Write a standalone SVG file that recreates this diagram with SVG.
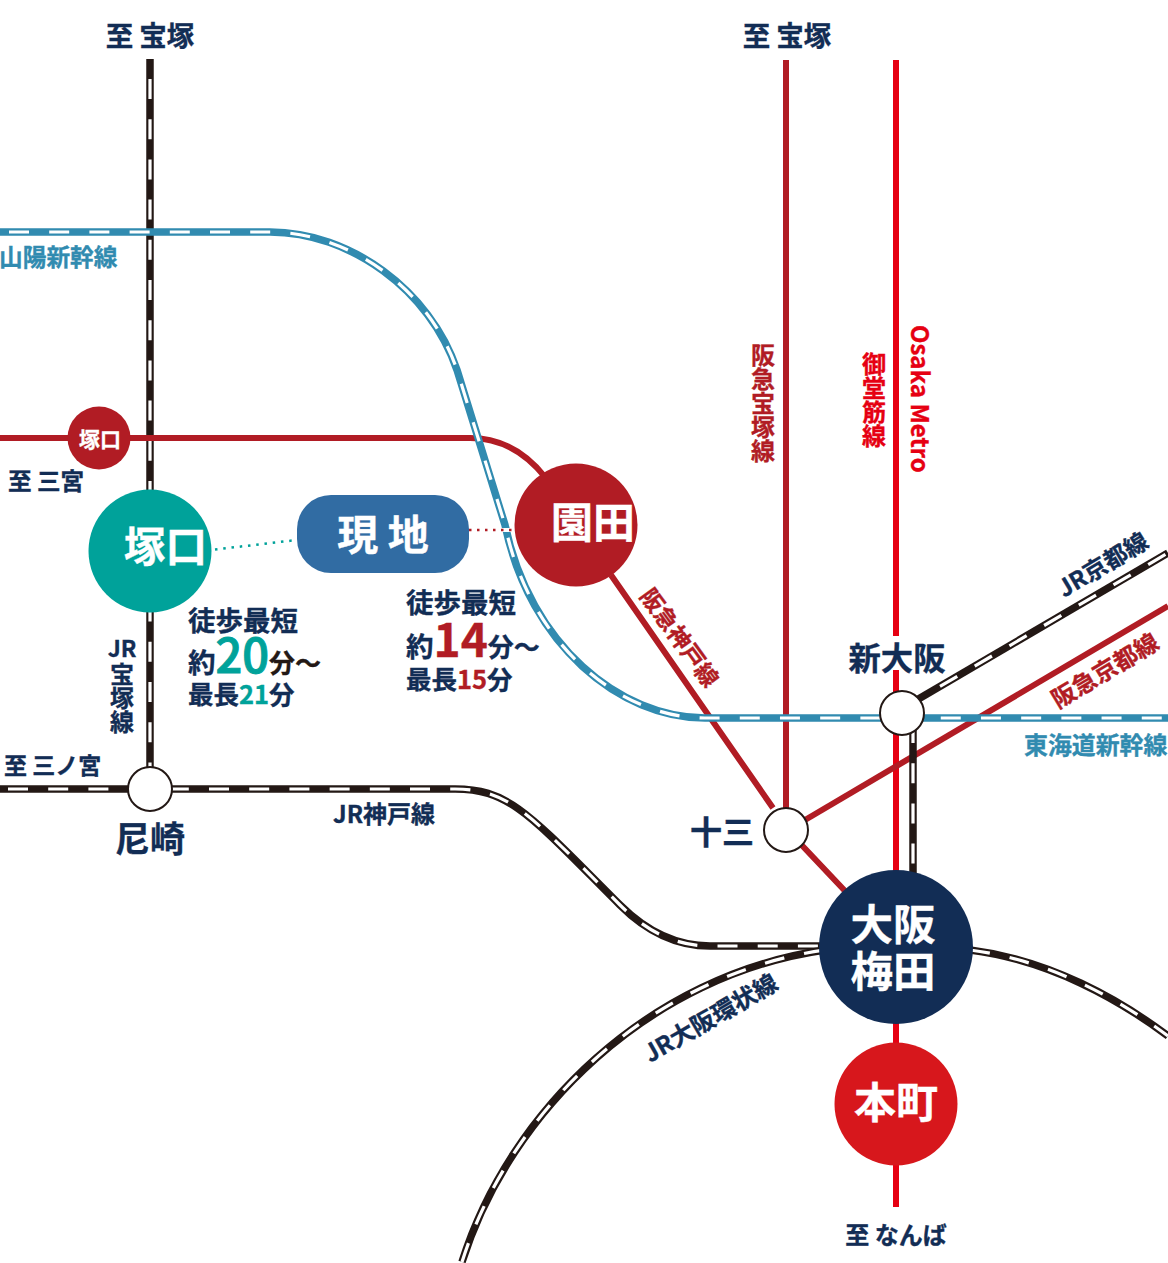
<svg xmlns="http://www.w3.org/2000/svg" width="1168" height="1263" viewBox="0 0 1168 1263">
<style>
text{font-family:"Noto Sans CJK JP","Noto Sans",sans-serif;font-weight:700;fill:#122d55;stroke:#122d55;stroke-width:.35}
.m{text-anchor:middle}
.v{writing-mode:vertical-rl}
.w{fill:#fff;stroke:#fff}
.rail{fill:none;stroke:#231815;stroke-width:7.5}
.dash{fill:none;stroke:#fff;stroke-width:3.2;stroke-dasharray:20 20.2}
.blue{fill:none;stroke:#318bb0;stroke-width:7.5}
.hk{fill:none;stroke:#b11c24;stroke-width:6}
.met{fill:none;stroke:#e60012;stroke-width:6}
.st{fill:#fff;stroke:#231815;stroke-width:2}
.bl{fill:#318bb0;stroke:#318bb0}.rd{fill:#b11c24;stroke:#b11c24}.me{fill:#e60012;stroke:#e60012}.gr{fill:#00a29a;stroke:#00a29a}.bk{fill:#231815;stroke:#231815}
</style>
<g id="connectors">
<path class="met" d="M896 60V636M896 670V1207"/>
<path class="hk" d="M786 60V830"/>
<path class="hk" d="M611 575L773 808M795 838L846 892"/>
<path class="hk" d="M805 820L1168 606"/>
<path class="rail" d="M913 730V880"/><path class="dash" d="M913 723V880"/>
<path class="rail" d="M915 701L1168 553"/><path class="dash" d="M940 686.4L1168 553"/>
<path class="rail" d="M150 59V770"/><path class="dash" d="M150 79V770"/>
<path class="hk" d="M0 438H470C500 438 525 452 545 477"/>
<path class="rail" d="M0 789H455C510 789 530 815 620 905C650 935 680 946 710 946H830"/><path class="dash" d="M8 789H455C510 789 530 815 620 905C650 935 680 946 710 946H830"/>
<path class="rail" d="M462 1262C510 1110 650 975 825 950"/><path class="dash" d="M462 1262C510 1110 650 975 825 950"/>
<path class="rail" d="M970 950C1050 960 1120 1000 1168 1036"/><path class="dash" d="M970 950C1050 960 1120 1000 1168 1036"/>
<path class="blue" d="M0 232H270C350 232 430 290 457 370L505 525C530 645 620 718 705 718H1168"/><path class="dash" d="M9 232H270C350 232 430 290 457 370L505 525C530 645 620 718 705 718H1168"/>
<path d="M215 549.5L297 540" fill="none" stroke="#00a29a" stroke-width="2.5" stroke-dasharray="2.5 5.8"/>
<path d="M498 530H516" fill="none" stroke="#fff" stroke-width="4"/>
<path d="M469 530H516" fill="none" stroke="#b11c24" stroke-width="2.5" stroke-dasharray="2.5 5.5"/>
</g>
<g id="label-takarazuka1"><text class="m" x="150" y="46" font-size="27.5">至 宝塚</text></g>
<g id="label-takarazuka2"><text class="m" x="787" y="46" font-size="27.5">至 宝塚</text></g>
<g id="label-sanyo"><text class="bl" x="-1" y="266" font-size="23.7">山陽新幹線</text></g>
<g id="label-sannomiya"><text x="8" y="490" font-size="23.6">至 三宮</text></g>
<g id="label-sannomiya2"><text x="4" y="774" font-size="23">至 三ノ宮</text></g>
<g id="label-jrtakarazuka"><text class="m" x="122" y="657" font-size="23">JR</text><text class="v" x="122" y="662" font-size="24">宝塚線</text></g>
<g id="label-jrkobe"><text class="m" x="384" y="823" font-size="24">JR神戸線</text></g>
<g id="label-hktakarazuka"><text class="v rd" x="763" y="343" font-size="24">阪急宝塚線</text></g>
<g id="label-midosuji"><text class="v me" x="874" y="352" font-size="24">御堂筋線</text></g>
<g id="label-metro"><text class="me" transform="translate(911 325) rotate(90)" font-size="24">Osaka Metro</text></g>
<g id="label-hkkobe"><text class="rd" transform="translate(639 596) rotate(54)" font-size="23">阪急神戸線</text></g>
<g id="label-jrkyoto"><text transform="translate(1064 598) rotate(-31)" font-size="23.7">JR京都線</text></g>
<g id="label-hkkyoto"><text class="rd" transform="translate(1058 709) rotate(-31)" font-size="24">阪急京都線</text></g>
<g id="label-tokaido"><text class="bl" x="1024" y="754" font-size="23.9">東海道新幹線</text></g>
<g id="label-loop"><text transform="translate(650 1063) rotate(-30)" font-size="24">JR大阪環状線</text></g>
<g id="label-namba"><text class="m" x="896" y="1244" font-size="24">至 なんば</text></g>
<g id="walk-tsukaguchi"><text x="188" y="631" font-size="27.5">徒歩最短</text><text x="188" y="673" font-size="27.5">約<tspan class="gr" font-size="47" font-weight="500" stroke-width="1">20</tspan><tspan class="bk" font-size="26">分〜</tspan></text><text x="188" y="704" font-size="25.5">最長<tspan class="gr">21</tspan>分</text></g>
<g id="walk-sonoda"><text x="406" y="613" font-size="27.5">徒歩最短</text><text x="406" y="657" font-size="27.5">約<tspan class="rd" font-size="46">14</tspan><tspan font-size="26">分〜</tspan></text><text x="406" y="689" font-size="25.5">最長<tspan class="rd">15</tspan>分</text></g>
<g id="node-tsukaguchi-hk"><circle cx="99" cy="438" r="31.5" fill="#b11c24"/><text class="m w" x="100" y="447" font-size="21">塚口</text></g>
<g id="node-tsukaguchi"><circle cx="150" cy="551" r="61.5" fill="#00a29a"/><text class="w" x="124" y="562" font-size="41.5">塚口</text></g>
<g id="node-genchi"><rect x="297" y="495" width="172" height="78" rx="34" fill="#316ca3"/><text class="m w" x="383" y="550" font-size="41">現 地</text></g>
<g id="node-sonoda"><circle cx="576" cy="525" r="61.5" fill="#b11c24"/><text class="w" x="551" y="538" font-size="42">園田</text></g>
<g id="node-shinosaka"><circle class="st" cx="902" cy="713" r="22"/><text class="m" x="897" y="670" font-size="32.3">新大阪</text></g>
<g id="node-juso"><circle class="st" cx="786" cy="830" r="22"/><text x="690" y="844" font-size="32">十三</text></g>
<g id="node-amagasaki"><circle class="st" cx="150" cy="789" r="22"/><text class="m" x="150" y="852" font-size="35">尼崎</text></g>
<g id="node-umeda"><circle cx="896" cy="947" r="77" fill="#122d55"/><text class="m w" x="893" y="940" font-size="42.5">大阪</text><text class="m w" x="893" y="987" font-size="42.5">梅田</text></g>
<g id="node-honmachi"><circle cx="896" cy="1104" r="61.5" fill="#d7171c"/><text class="m w" x="896" y="1118" font-size="42">本町</text></g>
</svg>
